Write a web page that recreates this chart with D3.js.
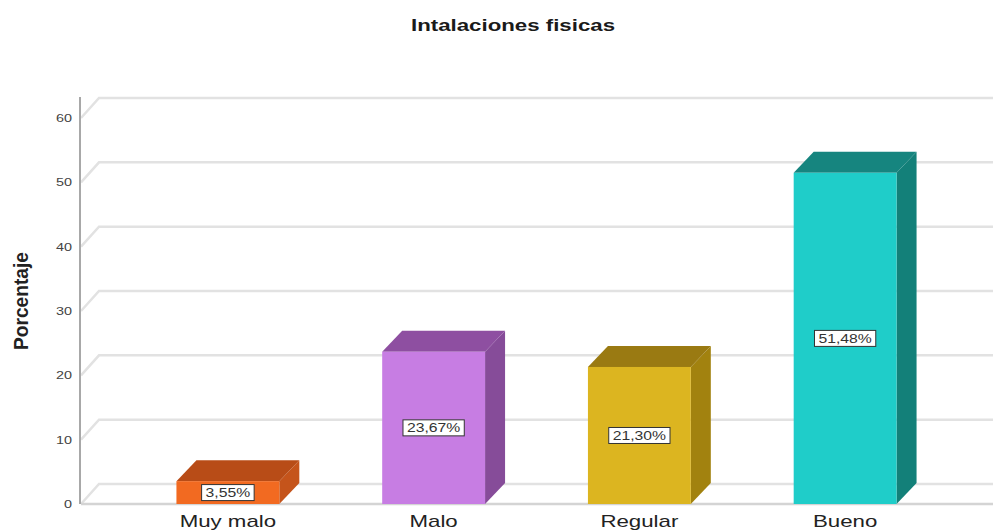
<!DOCTYPE html>
<html>
<head>
<meta charset="utf-8">
<script src="https://cdn.jsdelivr.net/npm/d3@7"></script>
<style>
  html, body { margin: 0; padding: 0; background: #fff; }
  svg { display: block; }
  text { font-family: "Liberation Sans", Arial, sans-serif; }
</style>
</head>
<body>
<svg id="chart" width="993" height="531"></svg>
<script>
// Data
const categories = ["Muy malo", "Malo", "Regular", "Bueno"];
const percentages = [3.55, 23.67, 21.30, 51.48];
const valueLabels = ["3,55%", "23,67%", "21,30%", "51,48%"];
const yTicks = [0, 10, 20, 30, 40, 50, 60];

// Face colours per bar: front, top, side
const frontColors = ["#f26a21", "#c77de3", "#dcb520", "#1fcdc9"];
const topColors   = ["#b84c17", "#8e4fa1", "#9a7a12", "#16857f"];
const sideColors  = ["#c5541b", "#864c99", "#a2820f", "#138079"];

const W = 993, H = 531;
const stretch = 1.31;          // horizontal text stretch
const depthX = 20, depthY = 21; // 3D depth offset

const svg = d3.select("#chart");

const x = d3.scaleBand()
  .domain(categories)
  .range([125, 948])
  .paddingInner(0.5)
  .paddingOuter(0.25);

const y = d3.scaleLinear()
  .domain([0, 60])
  .range([504, 118]);

const axisX = 81;

// Grid lines: diagonal from the axis into depth, then back wall line
const grid = svg.append("g");
yTicks.forEach(t => {
  const yy = y(t);
  grid.append("path")
    .attr("d", `M${axisX},${yy} L${axisX + depthX - 2},${yy - depthY + 1} L${W},${yy - depthY + 1}`)
    .attr("fill", "none")
    .attr("stroke", "#e2e2e2")
    .attr("stroke-width", 2.5);
});
// Front floor line
grid.append("line")
  .attr("x1", axisX).attr("x2", W)
  .attr("y1", y(0)).attr("y2", y(0))
  .attr("stroke", "#d4d4d4")
  .attr("stroke-width", 2.5);

// Vertical axis line
svg.append("line")
  .attr("x1", axisX - 1).attr("x2", axisX - 1)
  .attr("y1", y(60) - depthY).attr("y2", y(0))
  .attr("stroke", "#a8a8a8")
  .attr("stroke-width", 2);

// Y tick labels
svg.append("g").selectAll("text")
  .data(yTicks)
  .join("text")
  .attr("transform", d => `translate(72,${y(d) + 4}) scale(${stretch},1)`)
  .attr("text-anchor", "end")
  .attr("font-size", 11)
  .attr("fill", "#444")
  .text(d => d);

// Y axis title
svg.append("text")
  .attr("transform", `translate(28,301) scale(${stretch},1) rotate(-90)`)
  .attr("text-anchor", "middle")
  .attr("font-size", 16)
  .attr("font-weight", "bold")
  .attr("fill", "#222")
  .attr("textLength", 98)
  .attr("lengthAdjust", "spacingAndGlyphs")
  .text("Porcentaje");

// Chart title
svg.append("text")
  .attr("transform", `translate(513,31) scale(${stretch},1)`)
  .attr("text-anchor", "middle")
  .attr("font-size", 17)
  .attr("font-weight", "bold")
  .attr("fill", "#1a1a1a")
  .text("Intalaciones fisicas");

// Bars
const bars = svg.append("g").selectAll("g")
  .data(categories.map((c, i) => ({ c, v: percentages[i], i })))
  .join("g");

const bw = x.bandwidth();

bars.append("path") // side face
  .attr("d", d => {
    const x0 = x(d.c) + bw, yT = y(d.v), y0 = y(0);
    return `M${x0},${yT} L${x0 + depthX},${yT - depthY} L${x0 + depthX},${y0 - depthY} L${x0},${y0} Z`;
  })
  .attr("fill", d => sideColors[d.i]);

bars.append("path") // top face
  .attr("d", d => {
    const x0 = x(d.c), yT = y(d.v);
    return `M${x0},${yT} L${x0 + depthX},${yT - depthY} L${x0 + bw + depthX},${yT - depthY} L${x0 + bw},${yT} Z`;
  })
  .attr("fill", d => topColors[d.i]);

bars.append("rect") // front face
  .attr("x", d => x(d.c))
  .attr("y", d => y(d.v))
  .attr("width", bw)
  .attr("height", d => y(0) - y(d.v))
  .attr("fill", d => frontColors[d.i]);

// Value labels in boxes, centred on the front face
bars.each(function(d) {
  const g = d3.select(this);
  const cx = x(d.c) + bw / 2;
  const cy = (y(d.v) + y(0)) / 2;
  const lg = g.append("g").attr("transform", `translate(${cx},${cy})`);
  const txt = lg.append("text")
    .attr("transform", `scale(${stretch},1)`)
    .attr("text-anchor", "middle")
    .attr("dy", "0.36em")
    .attr("font-size", 12)
    .attr("fill", "#333")
    .text(valueLabels[d.i]);
  const tw = txt.node().getComputedTextLength() * stretch;
  lg.insert("rect", "text")
    .attr("x", -tw / 2 - 4)
    .attr("y", -8)
    .attr("width", tw + 8)
    .attr("height", 16)
    .attr("fill", "#fff")
    .attr("stroke", "#333")
    .attr("stroke-width", 1);
});

// Category labels
svg.append("g").selectAll("text")
  .data(categories)
  .join("text")
  .attr("transform", d => `translate(${x(d) + bw / 2},527) scale(${stretch},1)`)
  .attr("text-anchor", "middle")
  .attr("font-size", 17)
  .attr("fill", "#222")
  .text(d => d);
</script>
</body>
</html>
